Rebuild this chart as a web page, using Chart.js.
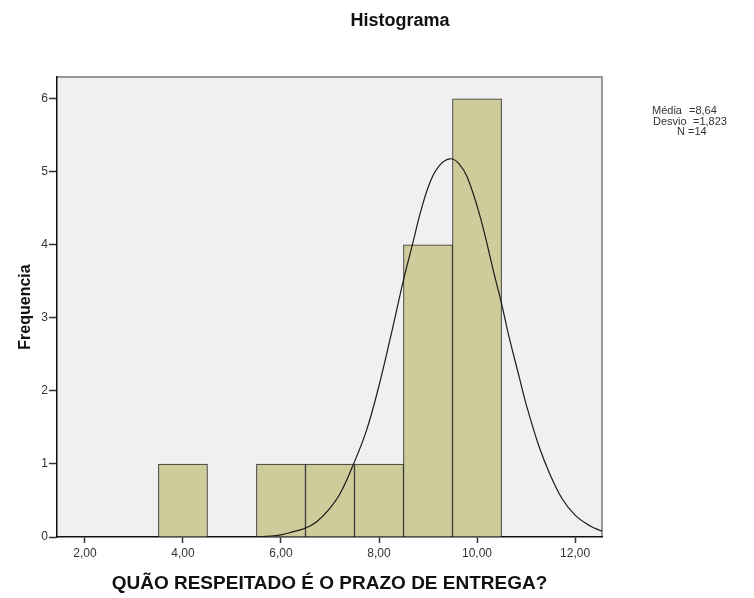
<!DOCTYPE html>
<html>
<head>
<meta charset="utf-8">
<script src="https://cdn.jsdelivr.net/npm/chart.js@4"></script>
<style>
  html, body { margin: 0; padding: 0; background: #fff; }
  #wrap { width: 754px; height: 598px; position: relative; }
</style>
</head>
<body>
<div id="wrap"><canvas id="myChart"></canvas></div>
<script>
// histogram bins (centre of each 1-wide bin) and counts
const binCenters = [4, 6, 7, 8, 9, 10];
const counts = [1, 1, 1, 1, 4, 6];

// normal curve
const curveX = [5.44, 5.7, 6.0, 6.24, 6.49, 6.73, 6.97, 7.21, 7.48, 7.74, 7.98, 8.24, 8.5, 8.68, 8.86, 9.06, 9.25, 9.45, 9.62, 9.8, 10.07, 10.35, 10.5, 10.65, 10.85, 11.01, 11.26, 11.5, 11.74, 12.0, 12.31, 12.55];
const curveY = [0, 0.01, 0.03, 0.07, 0.12, 0.21, 0.37, 0.6, 1.0, 1.45, 2.02, 2.75, 3.52, 4.0, 4.48, 4.89, 5.1, 5.18, 5.12, 4.93, 4.37, 3.6, 3.2, 2.75, 2.22, 1.8, 1.25, 0.84, 0.52, 0.3, 0.15, 0.08];

const xTicks = [2, 4, 6, 8, 10, 12];
const yTicks = [0, 1, 2, 3, 4, 5, 6];

const statLabels = ["Média", "Desvio", "N"];
const statValues = ["=8,64", "=1,823", "=14"];

const FONT = "'Liberation Sans', Arial, sans-serif";

const plotFrame = {
  id: "plotFrame",
  beforeDraw(chart) {
    const { ctx, chartArea: a } = chart;
    ctx.save();
    ctx.fillStyle = "#f0f0f0";
    ctx.fillRect(a.left, a.top, a.right - a.left, a.bottom - a.top);
    ctx.strokeStyle = "#7a7a7a";
    ctx.lineWidth = 1.5;
    ctx.beginPath();
    ctx.moveTo(a.left, a.top);
    ctx.lineTo(a.right, a.top);
    ctx.lineTo(a.right, a.bottom);
    ctx.stroke();
    ctx.restore();
  },
  afterDraw(chart) {
    const { ctx } = chart;
    ctx.save();
    ctx.fillStyle = "#111";
    ctx.font = "bold 18px " + FONT;
    ctx.textAlign = "center";
    ctx.textBaseline = "alphabetic";
    ctx.fillText("Histograma", 400, 26);

    ctx.fillStyle = "#333";
    ctx.font = "11px " + FONT;
    const rows = [
      { lx: 652, vx: 689, y: 114 },
      { lx: 653, vx: 693, y: 125 },
      { lx: 677, vx: 688, y: 135 }
    ];
    rows.forEach((r, i) => {
      ctx.textAlign = "left";
      ctx.fillText(statLabels[i], r.lx, r.y);
      ctx.fillText(statValues[i], r.vx, r.y);
    });
    ctx.restore();
  }
};

new Chart("myChart", {
  type: "bar",
  data: {
    datasets: [
      {
        type: "line",
        data: curveX.map((x, i) => ({ x: x, y: curveY[i] })),
        borderColor: "#1a1a1a",
        borderWidth: 1.2,
        pointRadius: 0,
        fill: false,
        tension: 0.4,
        order: 0
      },
      {
        type: "bar",
        data: binCenters.map((x, i) => ({ x: x, y: counts[i] })),
        backgroundColor: "#cdcc9a",
        borderColor: "#2a2a2a",
        borderWidth: 1,
        barPercentage: 1,
        categoryPercentage: 1,
        order: 1
      }
    ]
  },
  options: {
    responsive: true,
    maintainAspectRatio: false,
    animation: false,
    layout: { padding: { top: 77, right: 152, left: 0, bottom: 0 } },
    plugins: {
      legend: { display: false },
      tooltip: { enabled: false }
    },
    scales: {
      x: {
        type: "linear",
        min: 1.43,
        max: 12.55,
        offset: false,
        afterBuildTicks: (scale) => {
          scale.ticks = xTicks.map((v) => ({ value: v }));
        },
        afterFit: (scale) => {
          scale.height = 61;
        },
        ticks: {
          color: "#333",
          font: { family: FONT, size: 12 },
          padding: 3,
          maxRotation: 0,
          callback: (v) => v.toFixed(2).replace(".", ",")
        },
        grid: {
          offset: false,
          drawOnChartArea: false,
          tickLength: 6,
          tickColor: "#333",
          tickWidth: 1.5
        },
        border: { display: true, color: "#111", width: 1.5 },
        title: {
          display: true,
          text: "QUÃO RESPEITADO É O PRAZO DE ENTREGA?",
          color: "#111",
          font: { family: FONT, size: 19, weight: "bold" },
          padding: { top: 0, bottom: 3 }
        }
      },
      y: {
        min: 0,
        max: 6.3,
        afterBuildTicks: (scale) => {
          scale.ticks = yTicks.map((v) => ({ value: v }));
        },
        afterFit: (scale) => {
          scale.width = 57;
        },
        ticks: {
          color: "#333",
          font: { family: FONT, size: 12 },
          padding: 1
        },
        grid: {
          drawOnChartArea: false,
          tickLength: 8,
          tickColor: "#333",
          tickWidth: 1.5
        },
        border: { display: true, color: "#111", width: 1.5 },
        title: {
          display: true,
          text: "Frequencia",
          color: "#111",
          font: { family: FONT, size: 16, weight: "bold" },
          padding: { top: 16, bottom: 0 }
        }
      }
    }
  },
  plugins: [plotFrame]
});
</script>
</body>
</html>
